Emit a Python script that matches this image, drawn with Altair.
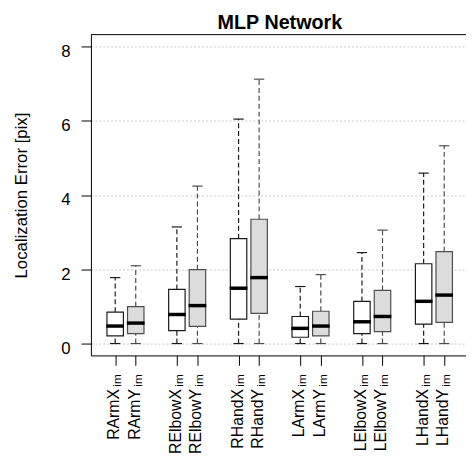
import altair as alt
import pandas as pd

# ---- data ----
joints = ["RArm", "RElbow", "RHand", "LArm", "LElbow", "LHand"]
coords = ["X", "Y"]
positions = [1, 2, 4, 5, 7, 8, 10, 11, 13, 14, 16, 17]
q1 = [0.205, 0.267, 0.347, 0.463, 0.658, 0.81, 0.17, 0.205, 0.267, 0.32, 0.525, 0.57]
med = [0.471, 0.551, 0.782, 1.022, 1.49, 1.776, 0.409, 0.471, 0.586, 0.729, 1.137, 1.305]
q3 = [0.844, 0.995, 1.457, 1.99, 2.824, 3.348, 0.729, 0.87, 1.137, 1.43, 2.149, 2.477]
upper = [1.776, 2.096, 3.14, 4.24, 6.045, 7.12, 1.536, 1.856, 2.45, 3.055, 4.59, 5.326]
lower = [0.0] * 12
y_ticks = [0, 2, 4, 6, 8]
subscript = "im"
title_text = "MLP Network"
y_title = "Localization Error [pix]"

labels = [j + c for j in joints for c in coords]
coord_col = [c for j in joints for c in coords]

df = pd.DataFrame({
    "label": labels, "coord": coord_col, "pos": positions,
    "q1": q1, "med": med, "q3": q3, "upper": upper, "lower": lower,
    "sub": [subscript] * 12,
})

W, H = 380, 325
FONT = "Liberation Sans"

xscale = alt.Scale(domain=[-0.18, 18.06], nice=False, zero=False)
yscale = alt.Scale(domain=[-0.32, 8.32], nice=False, zero=False)

xaxis = alt.Axis(values=positions, labels=False, ticks=True, tickSize=10,
                 tickColor="black", domainColor="black", grid=False, title="")
yaxis = alt.Axis(values=y_ticks, tickSize=10, tickColor="black", domainColor="black",
                 labelFontSize=17, labelFont=FONT, labelColor="black", labelPadding=11,
                 labelOffset=5,
                 grid=True, gridDash=[2, 2], gridColor="#c8c8c8", gridWidth=1,
                 title=y_title, titleFont=FONT, titleFontSize=17, titleFontWeight="normal",
                 titleColor="black", titlePadding=31)


def X(f):
    return alt.X(f, type="quantitative", scale=xscale, axis=xaxis)


def Y(f):
    return alt.Y(f, type="quantitative", scale=yscale, axis=yaxis)


fill = alt.Fill("coord:N", scale=alt.Scale(domain=coords, range=["white", "#dcdcdc"]), legend=None)
stroke = alt.Stroke("coord:N", scale=alt.Scale(domain=coords, range=["#1a1a1a", "#4d4d4d"]), legend=None)

base = alt.Chart(df).transform_calculate(
    xl="datum.pos - 0.4", xr="datum.pos + 0.4",
    cl="datum.pos - 0.25", cr="datum.pos + 0.25",
    ml="datum.pos - 0.43", mr="datum.pos + 0.43",
)

whisk_up = base.mark_rule(strokeDash=[5, 3], strokeWidth=1.2).encode(
    x=X("pos"), y=Y("q3"), y2="upper", stroke=stroke)
whisk_lo = base.mark_rule(strokeDash=[5, 3], strokeWidth=1.2).encode(
    x=X("pos"), y=Y("lower"), y2="q1", stroke=stroke)
cap_up = base.mark_rule(strokeWidth=1.2).encode(
    x=X("cl"), x2="cr", y=Y("upper"), stroke=stroke)
cap_lo = base.mark_rule(strokeWidth=1.2).encode(
    x=X("cl"), x2="cr", y=Y("lower"), stroke=stroke)
box = base.mark_rect(strokeWidth=1.2).encode(
    x=X("xl"), x2="xr", y=Y("q1"), y2="q3", fill=fill, stroke=stroke)
median = base.mark_rule(strokeWidth=3.5, color="black").encode(
    x=X("ml"), x2="mr", y=Y("med"))

lab_main = base.mark_text(angle=270, align="right", baseline="alphabetic", dy=4,
                          fontSize=16, font=FONT, color="black").encode(
    x=X("pos"), y=alt.value(359), text="label:N")
lab_sub = base.mark_text(angle=270, align="right", baseline="alphabetic", dy=6,
                         fontSize=12, font=FONT, color="black").encode(
    x=X("pos"), y=alt.value(344), text="sub:N")

one = pd.DataFrame({"t": [title_text]})
top_line = alt.Chart(one).mark_rule(color="black", strokeWidth=1).encode(
    x=alt.value(0), x2=alt.value(W), y=alt.value(0))
title = alt.Chart(one).mark_text(fontSize=20, fontWeight="bold", font=FONT, color="black",
                                 align="center", baseline="alphabetic").encode(
    x=alt.value(191.5), y=alt.value(-6), text="t:N")

chart = alt.layer(
    whisk_up, whisk_lo, cap_up, cap_lo, box, median, lab_main, lab_sub, top_line, title
).properties(
    width=W, height=H,
    autosize=alt.AutoSizeParams(type="none"),
    padding={"left": 84, "top": 24, "right": 0, "bottom": 105},
).configure_view(stroke=None)

chart.save("out.html", embed_options={"renderer": "svg", "actions": False})
